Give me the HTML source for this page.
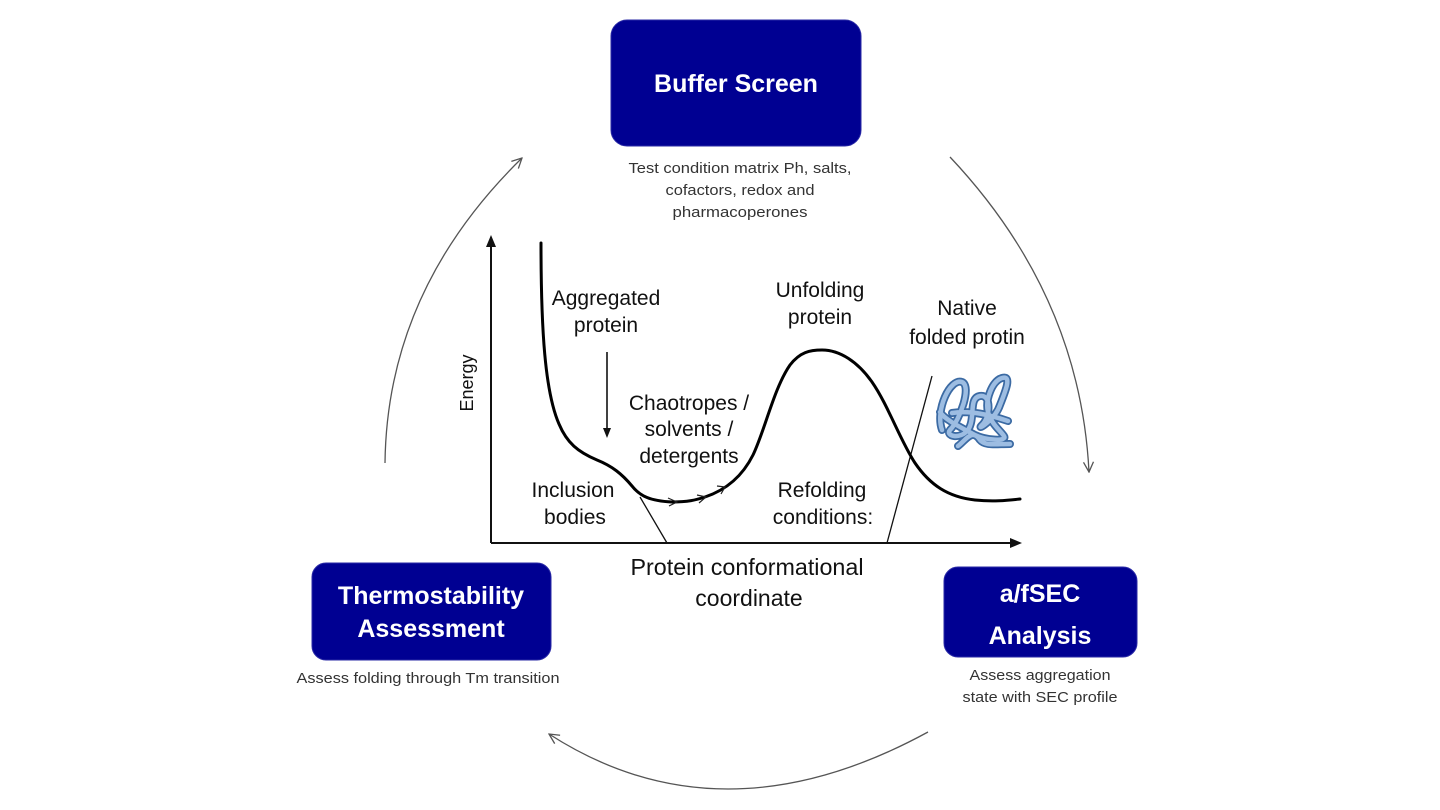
<!DOCTYPE html>
<html>
<head>
<meta charset="utf-8">
<style>
  html,body{margin:0;padding:0;background:#fff;}
  body{width:1440px;height:810px;overflow:hidden;}
  svg{display:block;}
  text{font-family:"Liberation Sans", Arial, sans-serif;}
</style>
</head>
<body>
<svg width="1440" height="810" viewBox="0 0 1440 810" xmlns="http://www.w3.org/2000/svg">
  <defs>
    <marker id="cyc" viewBox="0 0 12 12" refX="11" refY="6" markerWidth="12" markerHeight="12" markerUnits="userSpaceOnUse" orient="auto">
      <path d="M1,1 L11,6 L1,11" fill="none" stroke="#555" stroke-width="1.3"/>
    </marker>
  </defs>
  <rect width="1440" height="810" fill="#fff"/>

  <!-- cycle arrows -->
  <path d="M385,463 Q387,290 522,158" fill="none" stroke="#555" stroke-width="1.3" marker-end="url(#cyc)"/>
  <path d="M950,157 Q1080,295 1089,472" fill="none" stroke="#555" stroke-width="1.3" marker-end="url(#cyc)"/>
  <path d="M928,732 Q721,845 549,734" fill="none" stroke="#555" stroke-width="1.3" marker-end="url(#cyc)"/>

  <!-- boxes -->
  <rect x="611" y="20" width="250" height="126" rx="16" ry="16" fill="#000092" stroke="#2a2aa6" stroke-width="1"/>
  <text x="736" y="92" text-anchor="middle" font-size="25" font-weight="bold" fill="#fff">Buffer Screen</text>
  <text x="740" y="173" text-anchor="middle" font-size="15" fill="#333" textLength="223" lengthAdjust="spacingAndGlyphs">Test condition matrix Ph, salts,</text>
  <text x="740" y="195" text-anchor="middle" font-size="15" fill="#333" textLength="149" lengthAdjust="spacingAndGlyphs">cofactors, redox and</text>
  <text x="740" y="217" text-anchor="middle" font-size="15" fill="#333" textLength="135" lengthAdjust="spacingAndGlyphs">pharmacoperones</text>

  <rect x="312" y="563" width="239" height="97" rx="14" ry="14" fill="#000092" stroke="#2a2aa6" stroke-width="1"/>
  <text x="431" y="604" text-anchor="middle" font-size="25" font-weight="bold" fill="#fff">Thermostability</text>
  <text x="431" y="637" text-anchor="middle" font-size="25" font-weight="bold" fill="#fff">Assessment</text>
  <text x="428" y="683" text-anchor="middle" font-size="15" fill="#333" textLength="263" lengthAdjust="spacingAndGlyphs">Assess folding through Tm transition</text>

  <rect x="944" y="567" width="193" height="90" rx="14" ry="14" fill="#000092" stroke="#2a2aa6" stroke-width="1"/>
  <text x="1040" y="602" text-anchor="middle" font-size="25" font-weight="bold" fill="#fff">a/fSEC</text>
  <text x="1040" y="644" text-anchor="middle" font-size="25" font-weight="bold" fill="#fff">Analysis</text>
  <text x="1040" y="680" text-anchor="middle" font-size="15" fill="#333" textLength="141" lengthAdjust="spacingAndGlyphs">Assess aggregation</text>
  <text x="1040" y="702" text-anchor="middle" font-size="15" fill="#333" textLength="155" lengthAdjust="spacingAndGlyphs">state with SEC profile</text>

  <!-- axes -->
  <line x1="491" y1="543" x2="491" y2="245" stroke="#111" stroke-width="2"/>
  <path d="M491,235 L486,247 L496,247 Z" fill="#111"/>
  <line x1="491" y1="543" x2="1012" y2="543" stroke="#111" stroke-width="2"/>
  <path d="M1022,543 L1010,538 L1010,548 Z" fill="#111"/>

  <!-- thin lines -->
  <line x1="640" y1="497" x2="667" y2="543" stroke="#111" stroke-width="1.3"/>
  <line x1="932" y1="376" x2="887" y2="543" stroke="#111" stroke-width="1.3"/>

  <!-- energy curve -->
  <path d="M541,243 C541,330 545,392 559,424 C567,443 578,452 597,460 C612,466 622,474 632,486 C640,496 650,501 672,502 C688,502 696,500 705,497 C726,490 742,477 753,455 C765,430 774,388 790,365 C800,352 810,350 822,350 C840,350 858,362 872,382 C888,405 900,440 915,463 C930,485 948,497 975,500 C995,502 1010,500 1020,499" fill="none" stroke="#000" stroke-width="3" stroke-linecap="round"/>
  <!-- small arrow ticks on curve -->
  <path d="M668,498 L677,502 L669,506" fill="none" stroke="#222" stroke-width="1.2"/>
  <path d="M697,495 L706,497 L699,503" fill="none" stroke="#222" stroke-width="1.2"/>
  <path d="M717,486 L725,487 L721,494" fill="none" stroke="#222" stroke-width="1.2"/>

  <!-- down arrow -->
  <line x1="607" y1="352" x2="607" y2="429" stroke="#111" stroke-width="1.6"/>
  <path d="M607,438 L603,428 L611,428 Z" fill="#111"/>

  <!-- protein coil -->
  <g fill="none" stroke-linecap="round" stroke-linejoin="round">
    <path d="M942,430 C935,410 950,378 962,382 C972,386 960,420 950,430 C945,436 960,440 968,430 C976,418 968,398 980,396 C992,394 990,418 982,425 C975,432 995,420 1000,405 C1006,390 1012,375 1002,378 C992,381 985,400 988,412 C992,425 1000,430 1004,436 C1008,442 985,440 975,435 C962,428 945,420 940,412 M952,413 C970,410 990,415 1008,421 M958,446 C966,440 972,428 980,440 C985,446 995,444 1010,444" stroke="#3b6aa3" stroke-width="8"/>
    <path d="M942,430 C935,410 950,378 962,382 C972,386 960,420 950,430 C945,436 960,440 968,430 C976,418 968,398 980,396 C992,394 990,418 982,425 C975,432 995,420 1000,405 C1006,390 1012,375 1002,378 C992,381 985,400 988,412 C992,425 1000,430 1004,436 C1008,442 985,440 975,435 C962,428 945,420 940,412 M952,413 C970,410 990,415 1008,421 M958,446 C966,440 972,428 980,440 C985,446 995,444 1010,444" stroke="#9dbde2" stroke-width="4.5"/>
  </g>

  <!-- graph labels -->
  <g font-size="21" fill="#111" text-anchor="middle">
    <text x="606" y="305">Aggregated</text>
    <text x="606" y="332">protein</text>
    <text x="820" y="297">Unfolding</text>
    <text x="820" y="324">protein</text>
    <text x="967" y="315">Native</text>
    <text x="967" y="344">folded protin</text>
    <text x="689" y="410">Chaotropes /</text>
    <text x="689" y="436">solvents /</text>
    <text x="689" y="463">detergents</text>
    <text x="573" y="497">Inclusion</text>
    <text x="575" y="524">bodies</text>
    <text x="822" y="497">Refolding</text>
    <text x="823" y="524">conditions:</text>
  </g>
  <text x="747" y="575" text-anchor="middle" font-size="23" fill="#111" textLength="233" lengthAdjust="spacingAndGlyphs">Protein conformational</text>
  <text x="749" y="606" text-anchor="middle" font-size="23" fill="#111">coordinate</text>
  <text transform="translate(467,383) rotate(-90)" x="0" y="6" text-anchor="middle" font-size="18" fill="#111">Energy</text>
</svg>
</body>
</html>
